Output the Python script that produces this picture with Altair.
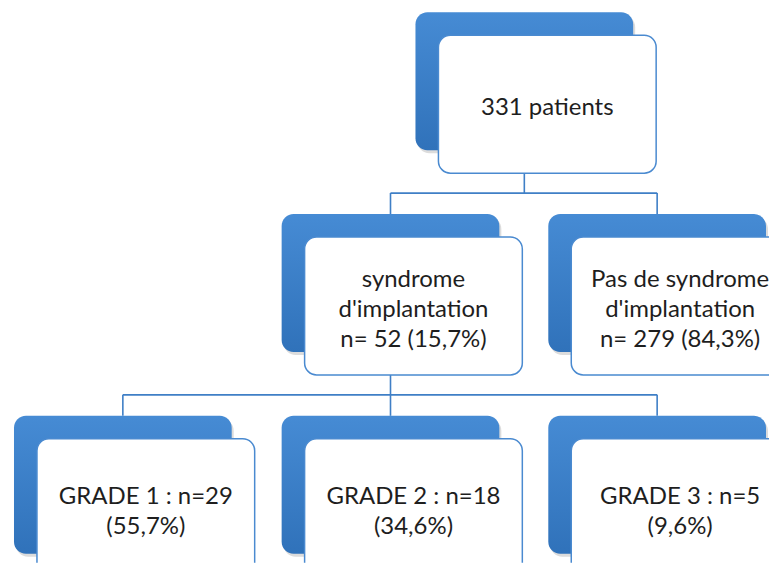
import altair as alt
import pandas as pd

# ---- diagram content ----
labels = [
    "331 patients",
    "syndrome\nd'implantation\nn= 52 (15,7%)",
    "Pas de syndrome\nd'implantation\nn= 279 (84,3%)",
    "GRADE 1 : n=29\n(55,7%)",
    "GRADE 2 : n=18\n(34,6%)",
    "GRADE 3 : n=5\n(9,6%)",
]
levels = [0, 1, 1, 2, 2, 2]
parents = [-1, 0, 0, 1, 1, 1]

# ---- layout (page pixel space) ----
BOX_W, BOX_H, SHIFT = 218, 138, 23
front_left = [439, 305, 572, 37, 305, 572]
level_top = {0: 35, 1: 237, 2: 439}
BUS_GAP = 20
LINE_H = 30

rects, texts, segs = [], [], []
for i, lab in enumerate(labels):
    fl = front_left[i]
    top = level_top[levels[i]]
    bl, bt = fl - SHIFT, top - SHIFT
    rects.append(dict(kind="shadow", x=bl + 2, x2=bl + BOX_W + 2, y=bt + 3, y2=bt + BOX_H + 3))
    rects.append(dict(kind="back", x=bl, x2=bl + BOX_W, y=bt, y2=bt + BOX_H))
    rects.append(dict(kind="front", x=fl, x2=fl + BOX_W, y=top, y2=top + BOX_H))
    n = lab.count("\n") + 1
    texts.append(dict(x=fl + BOX_W / 2,
                      y=top + BOX_H / 2 + 4 - (n - 1) * LINE_H / 2,
                      text=lab))

for p in sorted(set(parents)):
    if p < 0:
        continue
    kids = [c for c in range(len(labels)) if parents[c] == p]
    px = front_left[p] - SHIFT + BOX_W / 2
    pbottom = level_top[levels[p]] + BOX_H
    bus = pbottom + BUS_GAP
    segs.append(dict(x=px, x2=px, y=pbottom, y2=bus))
    cxs = [front_left[c] - SHIFT + BOX_W / 2 for c in kids]
    segs.append(dict(x=min(cxs), x2=max(cxs), y=bus, y2=bus))
    for c, cx in zip(kids, cxs):
        segs.append(dict(x=cx, x2=cx, y=bus, y2=level_top[levels[c]] - SHIFT))

rect_df = pd.DataFrame(rects)
text_df = pd.DataFrame(texts)
seg_df = pd.DataFrame(segs)

W, H = 762, 555
xs = alt.Scale(domain=[8, 8 + W], nice=False, zero=False)
ys = alt.Scale(domain=[8, 8 + H], nice=False, zero=False, reverse=True)

def X(f="x"):
    return alt.X(f"{f}:Q", scale=xs, axis=None)

def Y(f="y"):
    return alt.Y(f"{f}:Q", scale=ys, axis=None)

lines = alt.Chart(seg_df).mark_rule(color="#3f7fc6", strokeWidth=1.6, clip=True).encode(
    x=X(), x2="x2:Q", y=Y(), y2="y2:Q"
)

shadow = alt.Chart(rect_df).transform_filter("datum.kind == 'shadow'").mark_rect(
    cornerRadius=12, color="#9a9a9a", opacity=0.35, clip=True
).encode(x=X(), x2="x2:Q", y=Y(), y2="y2:Q")

back = alt.Chart(rect_df).transform_filter("datum.kind == 'back'").mark_rect(
    cornerRadius=12,
    clip=True,
    color=alt.Gradient(
        gradient="linear",
        stops=[alt.GradientStop(color="#468bd4", offset=0),
               alt.GradientStop(color="#3072ba", offset=1)],
        x1=0, x2=0, y1=0, y2=1,
    ),
).encode(x=X(), x2="x2:Q", y=Y(), y2="y2:Q")

front = alt.Chart(rect_df).transform_filter("datum.kind == 'front'").mark_rect(
    cornerRadius=12, fill="white", stroke="#4a8ad0", strokeWidth=1.5, clip=True
).encode(x=X(), x2="x2:Q", y=Y(), y2="y2:Q")

txt = alt.Chart(text_df).mark_text(
    font="Lato", fontSize=24, color="#1e1e1e", lineBreak="\n", lineHeight=LINE_H,
    align="center", baseline="middle"
).encode(x=X(), y=Y(), text="text:N")

chart = alt.layer(lines, shadow, back, front, txt).properties(
    width=W, height=H, padding=0, background="white"
).configure_view(stroke=None)

chart.save("out.html", embed_options={"renderer": "svg", "actions": False})
